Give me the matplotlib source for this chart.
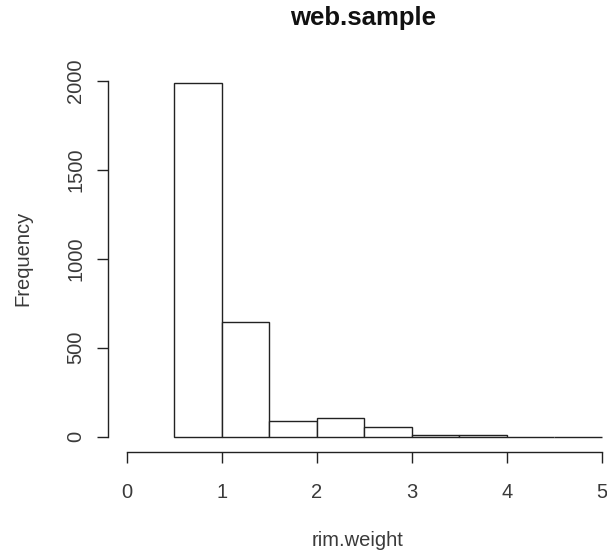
import matplotlib
matplotlib.use("Agg")
import matplotlib.pyplot as plt

# histogram of rim.weight, bin width 0.5 (R-style hist)
bin_left = [0.5, 1.0, 1.5, 2.0, 2.5, 3.0, 3.5, 4.0, 4.5]
counts = [1985, 644, 90, 107, 53, 9, 8, 1, 1]
x_ticks = [0, 1, 2, 3, 4, 5]
y_ticks = [0, 500, 1000, 1500, 2000]

plt.rcParams["font.family"] = ["Liberation Sans", "DejaVu Sans"]

W, H = 607, 558
fig = plt.figure(figsize=(W / 100, H / 100), dpi=100)
# plot region in pixels: left 107.7, right 607, top 60, bottom 452
ax = fig.add_axes([107.7 / W, 1 - 452 / H, (607 - 107.7) / W, (452 - 60) / H])

ax.bar(bin_left, counts, width=0.5, align="edge", facecolor="white",
       edgecolor="#222222", linewidth=1.0)

ax.set_xlim(-0.203, 5.054)
ax.set_ylim(-86, 2116)

for s in ["top", "right"]:
    ax.spines[s].set_visible(False)
ax.spines["left"].set_bounds(0, 2000)
ax.spines["bottom"].set_bounds(0, 5)
for s in ["left", "bottom"]:
    ax.spines[s].set_color("#222222")
    ax.spines[s].set_linewidth(1.0)

ax.set_xticks(x_ticks)
ax.set_yticks(y_ticks)
ax.set_yticklabels([str(v) for v in y_ticks], rotation=90, va="center")
ax.tick_params(axis="both", length=8, width=1.0, color="#222222",
               labelsize=14.5, labelcolor="#3a3a3a")
ax.tick_params(axis="x", pad=14)
ax.tick_params(axis="y", pad=8)

# axis titles and main title placed in pixel coords like R's margins
fig.text(358 / W, 1 - 540 / H, "rim.weight", fontsize=14.5, color="#3a3a3a",
         ha="center", va="center")
fig.text(23 / W, 1 - 258 / H, "Frequency", fontsize=14.5, color="#3a3a3a",
         ha="center", va="center", rotation=90)
fig.text(363 / W, 1 - 18 / H, "web.sample", fontsize=18.5,
         fontweight="bold", color="#111111", ha="center", va="center")

fig.savefig("out.png", dpi=100)
